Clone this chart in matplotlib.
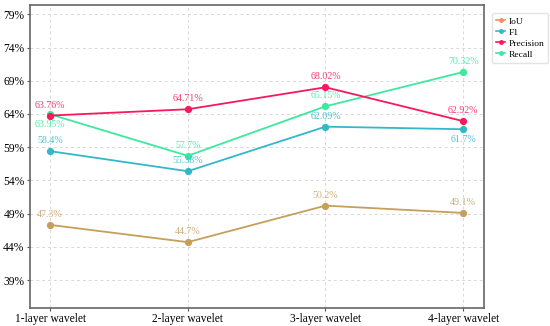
import matplotlib
matplotlib.use("Agg")
import matplotlib.pyplot as plt

categories = ["1-layer wavelet", "2-layer wavelet", "3-layer wavelet", "4-layer wavelet"]
iou = [47.3, 44.7, 50.2, 49.1]
f1 = [58.4, 55.38, 62.09, 61.7]
precision = [63.76, 64.71, 68.02, 62.92]
recall = [63.95, 57.7, 65.15, 70.32]
yticks = [39, 44, 49, 54, 59, 64, 69, 74, 79]

iou_lbl = ["47.3%", "44.7%", "50.2%", "49.1%"]
f1_lbl = ["58.4%", "55.38%", "62.09%", "61.7%"]
prec_lbl = ["63.76%", "64.71%", "68.02%", "62.92%"]
rec_lbl = ["63.95%", "57.7%", "65.15%", "70.32%"]

plt.rcParams['font.family'] = ['Liberation Serif', 'DejaVu Serif']

fig = plt.figure(figsize=(5.5, 3.26), dpi=100)
ax = fig.add_axes([0.0545, 0.0555, 0.826, 0.929])

x = list(range(len(categories)))
c_iou_line = "#c4a05a"
c_iou_leg = "#ff8a65"
c_f1 = "#33b8c9"
c_prec = "#f5195d"
c_rec = "#3de8a0"

ax.plot(x, iou, color=c_iou_line, marker='o', ms=4.2, lw=1.3, zorder=3)
ax.plot(x, f1, color=c_f1, marker='o', ms=4.2, lw=1.3, zorder=3)
ax.plot(x, precision, color=c_prec, marker='o', ms=4.2, lw=1.3, zorder=4)
ax.plot(x, recall, color=c_rec, marker='o', ms=4.2, lw=1.3, zorder=3)

# legend proxies
h1, = ax.plot([], [], color=c_iou_leg, marker='o', ms=2.5, lw=1.2, label="IoU")
h2, = ax.plot([], [], color=c_f1, marker='o', ms=2.5, lw=1.2, label="F1")
h3, = ax.plot([], [], color=c_prec, marker='o', ms=2.5, lw=1.2, label="Precision")
h4, = ax.plot([], [], color=c_rec, marker='o', ms=2.5, lw=1.2, label="Recall")

def annotate(vals, labels, color, offsets):
    for xi, v, t, off in zip(x, vals, labels, offsets):
        ax.annotate(t, (xi, v), xytext=(0, off), textcoords='offset points',
                    ha='center', va='center', fontsize=7.2, color=color, alpha=0.85)

annotate(iou, iou_lbl, "#c9a060", [7.5, 7.5, 7.5, 7.5])
annotate(f1, f1_lbl, c_f1, [7.5, 7.5, 7.5, -7.5])
annotate(precision, prec_lbl, c_prec, [7.5, 7.5, 7.5, 7.5])
annotate(recall, rec_lbl, c_rec, [-7.5, 7.5, 7.5, 7.5])

ax.set_xlim(-0.146, 3.153)
ax.set_ylim(34.8, 80.4)
ax.set_xticks(x)
ax.set_xticklabels(categories, fontsize=8.3)
ax.set_yticks(yticks)
ax.set_yticklabels([f"{v}%" for v in yticks], fontsize=8.3)
ax.tick_params(length=2.5, width=0.8, color="#555555", pad=1.5)
ax.grid(True, linestyle=(0, (3, 3)), color="#d8d8d8", lw=0.7)
ax.set_axisbelow(True)
for s in ax.spines.values():
    s.set_color("#666666")
    s.set_linewidth(1.2)

ax.legend(handles=[h1, h2, h3, h4], loc='upper left', bbox_to_anchor=(1.006, 0.99),
          fontsize=6.8, frameon=True, edgecolor="#dddddd", handlelength=1.0,
          handletextpad=0.3, borderpad=0.45, labelspacing=0.25, fancybox=True)

fig.savefig("out.png", dpi=100)
